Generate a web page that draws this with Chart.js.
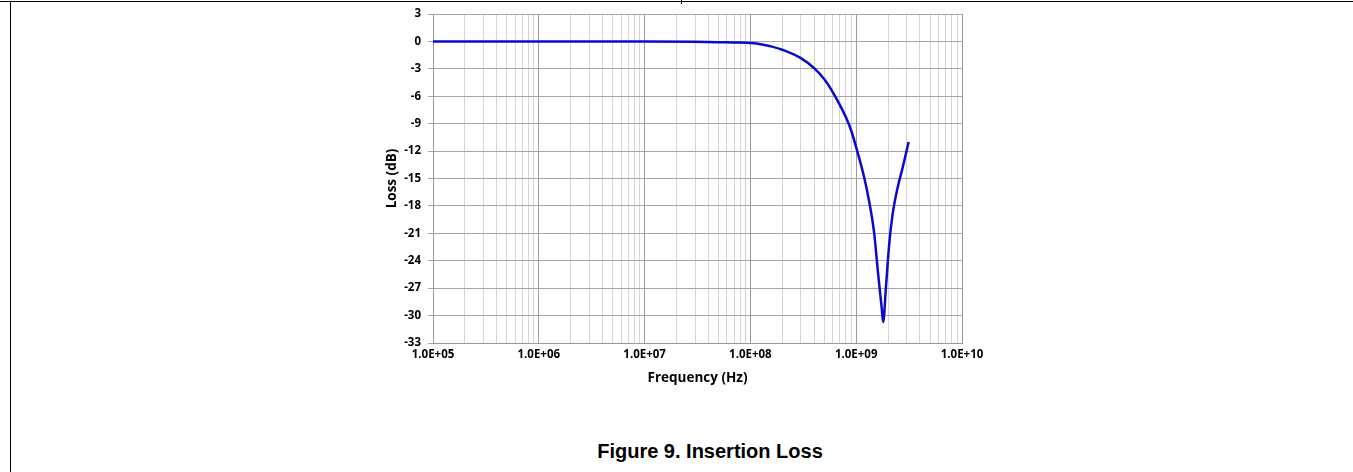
<!DOCTYPE html>
<html>
<head>
<meta charset="utf-8">
<script src="https://cdn.jsdelivr.net/npm/chart.js@4/dist/chart.umd.min.js"></script>
<style>
  body { margin: 0; background: #fff; width: 1353px; height: 472px; overflow: hidden; position: relative; }
  #topline { position: absolute; left: 0; top: 1px; width: 1353px; height: 0; border-top: 1.5px solid #000; }
  #leftline { position: absolute; left: 10px; top: 1px; width: 0; height: 471px; border-left: 1px solid #000; }
  #tick { position: absolute; left: 681px; top: 0; width: 0; height: 4px; border-left: 1px solid #000; }
  #wrap { position: absolute; left: 384px; top: 0; width: 616px; height: 390px; }
  #caption { position: absolute; left: 0; width: 1420px; top: 440px; text-align: center;
    font: bold 20px "Liberation Sans", Arial, sans-serif; color: #000; }
</style>
</head>
<body>
<div id="topline"></div>
<div id="leftline"></div>
<div id="tick"></div>
<div id="wrap"><canvas id="myChart" width="616" height="390"></canvas></div>
<div id="caption">Figure 9. Insertion Loss</div>
<script>
// frecuencias (Hz) y perdida (dB)
const freqHz = [1e5, 1e6, 1e7, 3e7, 5e7, 8e7, 1e8, 1.25e8, 1.6e8, 2e8, 3e8, 4e8, 5e8, 6e8, 7e8, 8e8, 9e8,
	1e9, 1.19e9, 1.33e9, 1.48e9, 1.61e9, 1.74e9, 1.80e9, 1.91e9,
	2.05e9, 2.21e9, 2.47e9, 2.75e9, 3.13e9];
const lossDb = [0, 0, -0.02, -0.05, -0.08, -0.12, -0.18, -0.3, -0.57, -0.91, -1.83, -2.93, -4.15, -5.55, -6.95, -8.3, -9.8,
	-11.6, -14.9, -17.6, -21.0, -25.4, -29.1, -30.7, -26.9,
	-22.2, -18.9, -15.95, -13.8, -11.0];
const decadeLabels = ['1.0E+05', '1.0E+06', '1.0E+07', '1.0E+08', '1.0E+09', '1.0E+10'];
const yTicks = [3, 0, -3, -6, -9, -12, -15, -18, -21, -24, -27, -30, -33];

const tickFont = { family: '"Open Sans", sans-serif', size: 11.5, weight: 'bold' };
const titleFont = { family: '"Open Sans", sans-serif', size: 13.5, weight: 'bold' };

function isDecade(v) {
	let l = Math.log10(v);
	return Math.abs(l - Math.round(l)) < 1e-9;
}

var ctx = document.getElementById('myChart').getContext('2d');
var myChart = new Chart(ctx, {
	type: 'line',
	data: {
		datasets: [{
			label: 'Loss',
			data: freqHz.map((f, i) => ({ x: f, y: lossDb[i] })),
			borderColor: '#0a0acc',
			borderWidth: 2.5,
			pointRadius: 0,
			cubicInterpolationMode: 'monotone',
			fill: false
		}]
	},
	options: {
		responsive: false,
		animation: false,
		layout: { padding: { top: 14, right: 38, left: 0, bottom: 0 } },
		plugins: { legend: { display: false }, tooltip: { enabled: false } },
		scales: {
			x: {
				type: 'logarithmic',
				min: 1e5,
				max: 1e10,
				afterBuildTicks: function (scale) {
					let t = [];
					for (let e = 5; e < 10; e++) {
						for (let m = 1; m < 10; m++) t.push({ value: m * Math.pow(10, e) });
					}
					t.push({ value: 1e10 });
					scale.ticks = t;
				},
				afterFit: function (scale) { scale.height = 47; },
				ticks: {
					autoSkip: false,
					maxRotation: 0,
					color: '#000',
					font: tickFont,
					padding: 5,
					callback: function (v) {
						if (!isDecade(v)) return '';
						return decadeLabels[Math.round(Math.log10(v)) - 5];
					}
				},
				grid: {
					drawTicks: false,
					color: function (c) { return c.tick && isDecade(c.tick.value) ? '#9a9a9a' : '#d4d4d4'; },
					lineWidth: 1
				},
				border: { color: '#9a9a9a' },
				title: { display: true, text: 'Frequency (Hz)', color: '#000', font: titleFont, padding: { top: 2, bottom: 4 } }
			},
			y: {
				min: -33,
				max: 3,
				afterBuildTicks: function (scale) {
					scale.ticks = yTicks.map(v => ({ value: v }));
				},
				afterFit: function (scale) { scale.width = 49; },
				ticks: { color: '#000', font: tickFont, padding: 7 },
				grid: { color: '#a6a6a6', tickLength: 5 },
				border: { color: '#9a9a9a' },
				title: { display: true, text: 'Loss (dB)', color: '#000', font: titleFont, padding: { top: 0, bottom: 2 } }
			}
		}
	}
});
</script>
</body>
</html>
